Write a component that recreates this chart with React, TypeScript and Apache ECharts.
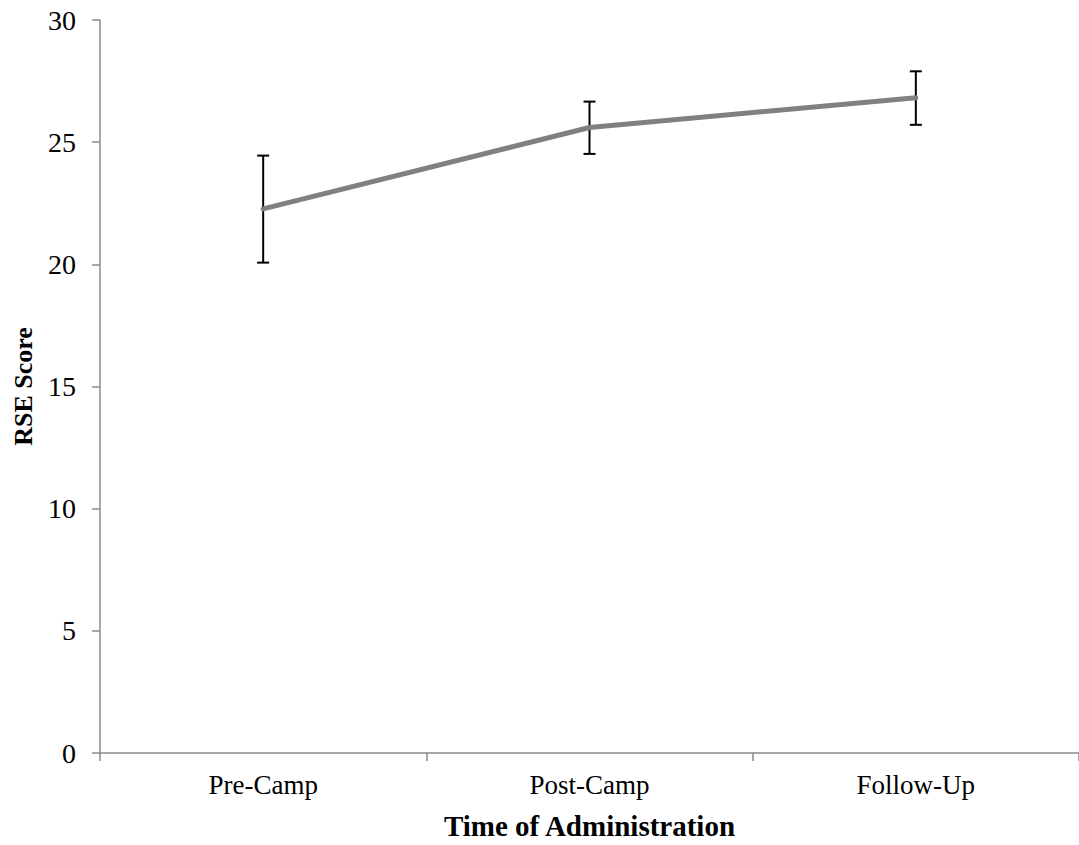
import React, { useEffect, useRef } from "react";
import * as echarts from "echarts";

const categories = ["Pre-Camp", "Post-Camp", "Follow-Up"];
const means = [22.27, 25.6, 26.82];
const lows = [20.07, 24.52, 25.71];
const highs = [24.45, 26.66, 27.9];
const yTicks = { min: 0, max: 30, interval: 5 };

const FONT = "'Liberation Serif', 'DejaVu Serif', serif";

export default function App() {
  const ref = useRef<HTMLDivElement>(null);
  useEffect(() => {
    if (!ref.current) return;
    const chart = echarts.init(ref.current, null, { renderer: "svg" });
    const errData = categories.map((c, i) => [i, lows[i], highs[i]]);
    chart.setOption({
      animation: false,
      backgroundColor: "#ffffff",
      grid: { left: 100, top: 20, width: 990, height: 741, containLabel: false },
      xAxis: {
        type: "category",
        data: categories,
        boundaryGap: true,
        name: "Time of Administration",
        nameLocation: "middle",
        nameGap: 58,
        nameTextStyle: { fontFamily: FONT, fontSize: 29, fontWeight: "bold", color: "#000" },
        axisLine: { lineStyle: { color: "#8a8a8a", width: 1.5 } },
        axisTick: { show: true, interval: 0, length: 8, lineStyle: { color: "#8a8a8a", width: 1.5 } },
        axisLabel: { fontFamily: FONT, fontSize: 27, color: "#000", margin: 18 },
        splitLine: { show: false },
      },
      yAxis: {
        type: "value",
        min: yTicks.min,
        max: yTicks.max,
        interval: yTicks.interval,
        name: "RSE Score",
        nameLocation: "middle",
        nameGap: 64,
        nameRotate: 90,
        nameTextStyle: { fontFamily: FONT, fontSize: 26, fontWeight: "bold", color: "#000" },
        axisLine: { show: true, lineStyle: { color: "#8a8a8a", width: 1.5 } },
        axisTick: { show: true, length: 8, lineStyle: { color: "#8a8a8a", width: 1.5 } },
        axisLabel: { fontFamily: FONT, fontSize: 28, color: "#000", margin: 24 },
        splitLine: { show: false },
      },
      series: [
        {
          type: "custom",
          z: 2,
          data: errData,
          renderItem: (params: any, api: any) => {
            const x = api.value(0);
            const lo = api.coord([x, api.value(1)]);
            const hi = api.coord([x, api.value(2)]);
            const hw = 6;
            const style = { stroke: "#000", lineWidth: 2 };
            return {
              type: "group",
              children: [
                { type: "line", shape: { x1: lo[0], y1: lo[1], x2: hi[0], y2: hi[1] }, style },
                { type: "line", shape: { x1: lo[0] - hw, y1: lo[1], x2: lo[0] + hw, y2: lo[1] }, style },
                { type: "line", shape: { x1: hi[0] - hw, y1: hi[1], x2: hi[0] + hw, y2: hi[1] }, style },
              ],
            };
          },
        },
        {
          type: "line",
          z: 3,
          data: means,
          symbol: "none",
          lineStyle: { color: "#808080", width: 5, cap: "round" },
        },
      ],
    });
    return () => chart.dispose();
  }, []);
  return (
    <div
      ref={ref}
      style={{ position: "fixed", left: 0, top: 0, width: 1079, height: 845 }}
    />
  );
}
